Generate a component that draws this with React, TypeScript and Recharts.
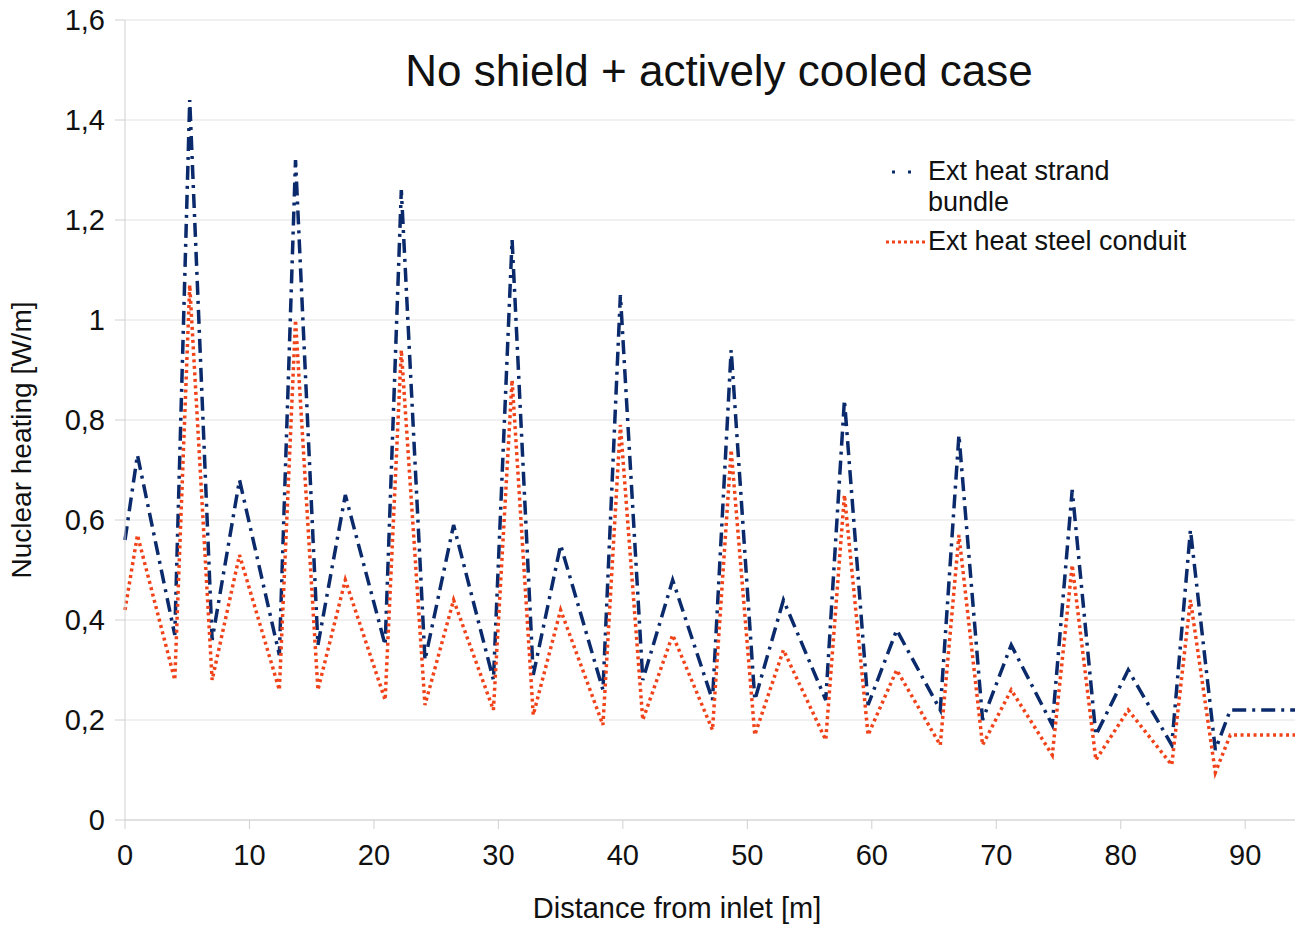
import { CartesianGrid, Line, LineChart, XAxis, YAxis } from 'recharts';

const distance = [
  0, 1, 4, 5.2, 7, 9.2, 12.4, 13.7, 15.5, 17.7, 20.9, 22.2, 24.1, 26.4, 29.6, 31.1, 32.8, 35,
  38.4, 39.8, 41.6, 44, 47.2, 48.7, 50.6, 52.9, 56.3, 57.8, 59.7, 62, 65.5, 67, 68.9, 71.2, 74.5,
  76.1, 78, 80.6, 84.1, 85.6, 87.6, 88.8, 94,
];
const strandBundle = [
  0.56, 0.73, 0.37, 1.44, 0.36, 0.68, 0.33, 1.32, 0.35, 0.65, 0.35, 1.26, 0.32, 0.59, 0.28, 1.16,
  0.29, 0.55, 0.26, 1.05, 0.28, 0.48, 0.24, 0.94, 0.24, 0.44, 0.24, 0.84, 0.23, 0.38, 0.22, 0.77,
  0.2, 0.35, 0.19, 0.66, 0.17, 0.3, 0.15, 0.58, 0.14, 0.22, 0.22,
];
const steelConduit = [
  0.42, 0.57, 0.28, 1.07, 0.28, 0.53, 0.26, 1.0, 0.26, 0.48, 0.24, 0.94, 0.23, 0.44, 0.22, 0.88,
  0.21, 0.42, 0.19, 0.79, 0.2, 0.37, 0.18, 0.74, 0.17, 0.34, 0.16, 0.65, 0.17, 0.3, 0.15, 0.57,
  0.15, 0.26, 0.13, 0.51, 0.12, 0.22, 0.11, 0.44, 0.095, 0.17, 0.17,
];
const xTicks = [0, 10, 20, 30, 40, 50, 60, 70, 80, 90];
const yTicks = [0, 0.2, 0.4, 0.6, 0.8, 1, 1.2, 1.4, 1.6];

const data = distance.map((x, i) => ({ x, strand: strandBundle[i], steel: steelConduit[i] }));

const BLUE = '#0a2a6c';
const RED = '#f0431a';
const FONT = '"Liberation Sans", Arial, sans-serif';
const TEXT = '#111';

const fmt = (v: number) => String(v).replace('.', ',');

function ChartLegend() {
  const row = { display: 'flex', alignItems: 'flex-start' } as const;
  return (
    <div
      style={{
        position: 'absolute',
        left: 884,
        top: 156,
        fontFamily: FONT,
        fontSize: 27,
        color: TEXT,
        lineHeight: '31px',
      }}
    >
      <div style={row}>
        <svg width={44} height={31}>
          <line x1={8} y1={16} x2={40} y2={16} stroke={BLUE} strokeWidth={3} strokeDasharray="3 13" />
        </svg>
        <span>
          Ext heat strand
          <br />
          bundle
        </span>
      </div>
      <div style={{ ...row, marginTop: 8 }}>
        <svg width={44} height={31}>
          <line x1={2} y1={16} x2={42} y2={16} stroke={RED} strokeWidth={3} strokeDasharray="3 3" />
        </svg>
        <span>Ext heat steel conduit</span>
      </div>
    </div>
  );
}

export default function App() {
  return (
    <div style={{ position: 'absolute', left: 0, top: 0, width: 1298, height: 927, background: '#fff' }}>
      <LineChart width={1298} height={927} data={data} margin={{ top: 20, right: 3, left: 0, bottom: 0 }}>
        <CartesianGrid stroke="#e2e2e2" vertical={false} />
        <XAxis
          dataKey="x"
          type="number"
          domain={[0, 94]}
          ticks={xTicks}
          height={107}
          stroke="#d0d0d0"
          tickSize={9}
          tickMargin={15}
          tick={{ fill: TEXT, fontSize: 29, fontFamily: FONT }}
        />
        <YAxis
          type="number"
          domain={[0, 1.6]}
          ticks={yTicks}
          width={125}
          stroke="#d0d0d0"
          tickSize={10}
          tickMargin={10}
          tickFormatter={fmt}
          tick={{ fill: TEXT, fontSize: 29, fontFamily: FONT }}
        />
        <Line
          type="linear"
          dataKey="strand"
          stroke={BLUE}
          strokeWidth={3.5}
          strokeDasharray="14 6 3 6"
          dot={false}
          isAnimationActive={false}
        />
        <Line
          type="linear"
          dataKey="steel"
          stroke={RED}
          strokeWidth={3.5}
          strokeDasharray="3 3.5"
          dot={false}
          isAnimationActive={false}
        />
      </LineChart>
      <div
        style={{
          position: 'absolute',
          left: 0,
          width: 1438,
          top: 46,
          textAlign: 'center',
          fontFamily: FONT,
          fontSize: 44,
          color: TEXT,
        }}
      >
        No shield + actively cooled case
      </div>
      <div
        style={{
          position: 'absolute',
          left: 477,
          width: 400,
          top: 892,
          textAlign: 'center',
          fontFamily: FONT,
          fontSize: 29,
          color: TEXT,
        }}
      >
        Distance from inlet [m]
      </div>
      <div
        style={{
          position: 'absolute',
          left: 22 - 200,
          top: 440 - 17,
          width: 400,
          height: 34,
          lineHeight: '34px',
          textAlign: 'center',
          transform: 'rotate(-90deg)',
          fontFamily: FONT,
          fontSize: 28,
          color: TEXT,
        }}
      >
        Nuclear heating [W/m]
      </div>
      <ChartLegend />
    </div>
  );
}
